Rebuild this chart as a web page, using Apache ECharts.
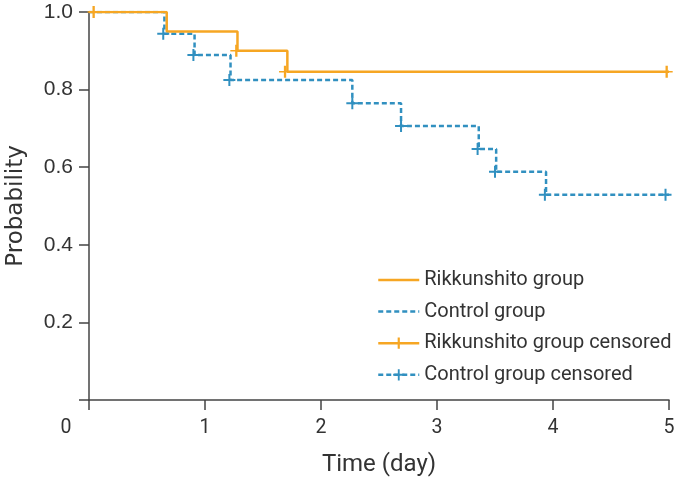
<!DOCTYPE html>
<html><head><meta charset="utf-8">
<script src="https://cdn.jsdelivr.net/npm/echarts@6/dist/echarts.min.js"></script>
<style>html,body{margin:0;padding:0;background:#fff}#c{width:676px;height:478px}</style>
</head><body><div id="c"></div>
<script>
const xTicks = [0, 1, 2, 3, 4, 5];
const yTicks = [0, 0.2, 0.4, 0.6, 0.8, 1.0];
const rikTime = [0, 0.67, 1.28, 1.71, 5];
const rikSurv = [1, 0.95, 0.9, 0.846, 0.846];
const rikCensT = [0.04, 1.27, 1.69, 4.98];
const rikCensS = [1, 0.9, 0.846, 0.846];
const ctrlTime = [0, 0.65, 0.91, 1.22, 2.27, 2.69, 3.36, 3.51, 3.94, 5];
const ctrlSurv = [1, 0.944, 0.889, 0.825, 0.765, 0.706, 0.647, 0.588, 0.529, 0.529];
const ctrlCensT = [0.64, 0.90, 1.21, 2.27, 2.69, 3.35, 3.50, 3.93, 4.97];
const ctrlCensS = [0.944, 0.889, 0.825, 0.765, 0.706, 0.647, 0.588, 0.529, 0.529];

const ORANGE = '#F6A623', BLUE = '#3190C0', TXT = '#333';
const zip = (a, b) => a.map((v, i) => [v, b[i]]);
const plus = 'path://M5,0h2v5h5v2h-5v5h-2v-5h-5v-2h5z';
const vplus = 'path://M5,0h2.4v5.3h5v1.4h-5v5.3h-2.4v-5.3h-5v-1.4h5z';

const chart = echarts.init(document.getElementById('c'));
chart.setOption({
  animation: false,
  grid: {left: 89, right: 7, top: 12, bottom: 78, containLabel: false, outerBoundsMode: 'none'},
  xAxis: {
    type: 'value', min: 0, max: 5, interval: 1,
    name: 'Time (day)', nameLocation: 'middle', nameGap: 53,
    nameTextStyle: {fontFamily: 'Roboto', fontSize: 24, color: TXT},
    axisLine: {lineStyle: {color: '#444', width: 1.5}},
    axisTick: {length: 10, lineStyle: {color: '#444', width: 1.5}},
    splitLine: {show: false},
    axisLabel: {
      margin: 18, fontFamily: 'Roboto', fontSize: 19.5, color: TXT,
      formatter: v => v === 0 ? '{z|0}' : String(v),
      rich: {z: {fontFamily: 'Roboto', fontSize: 19.5, color: TXT, padding: [0, 46, 0, 0]}}
    }
  },
  yAxis: {
    type: 'value', min: 0, max: 1, interval: 0.2,
    name: 'Probability', nameLocation: 'middle', nameGap: 61,
    nameTextStyle: {fontFamily: 'DejaVu Sans', fontSize: 23, color: TXT},
    axisLine: {show: true, lineStyle: {color: '#444', width: 1.5}},
    axisTick: {show: true, length: 10, lineStyle: {color: '#444', width: 1.5}},
    splitLine: {show: false},
    axisLabel: {
      margin: 16, fontFamily: 'Liberation Sans', fontSize: 21, color: TXT,
      formatter: v => v === 0 ? '' : v.toFixed(1)
    }
  },
  legend: {
    orient: 'vertical', left: 372, top: 264, itemGap: 9.6, itemWidth: 41, itemHeight: 14,
    textStyle: {fontFamily: 'Roboto', fontSize: 20, color: TXT, lineHeight: 22},
    data: [
      {name: 'Rikkunshito group', itemStyle: {opacity: 0},
       lineStyle: {color: ORANGE, width: 2.5, type: 'solid', opacity: 1}},
      {name: 'Control group', itemStyle: {opacity: 0},
       lineStyle: {color: BLUE, width: 2.5, type: [5, 3], opacity: 1}},
      {name: 'Rikkunshito group censored',
       lineStyle: {color: ORANGE, width: 2.5, type: 'solid', opacity: 1}},
      {name: 'Control group censored',
       lineStyle: {color: BLUE, width: 2.5, type: [5, 3], opacity: 1}}
    ]
  },
  series: [
    {name: 'Rikkunshito group', type: 'line', step: 'end', symbol: 'none',
     data: zip(rikTime, rikSurv), lineStyle: {color: ORANGE, width: 2.5}, itemStyle: {color: ORANGE}, z: 3},
    {name: 'Control group', type: 'line', step: 'end', symbol: 'none',
     data: zip(ctrlTime, ctrlSurv), lineStyle: {color: BLUE, width: 2.5, type: [5, 3]}, itemStyle: {color: BLUE}, z: 2},
    {name: 'Rikkunshito group censored', type: 'line', symbol: vplus, symbolSize: 12, showSymbol: true,
     data: zip(rikCensT, rikCensS), lineStyle: {opacity: 0, color: ORANGE}, itemStyle: {color: ORANGE}, z: 4},
    {name: 'Control group censored', type: 'line', symbol: plus, symbolSize: 12, showSymbol: true,
     data: zip(ctrlCensT, ctrlCensS), lineStyle: {opacity: 0, color: BLUE}, itemStyle: {color: BLUE}, z: 4}
  ]
});
</script></body></html>
